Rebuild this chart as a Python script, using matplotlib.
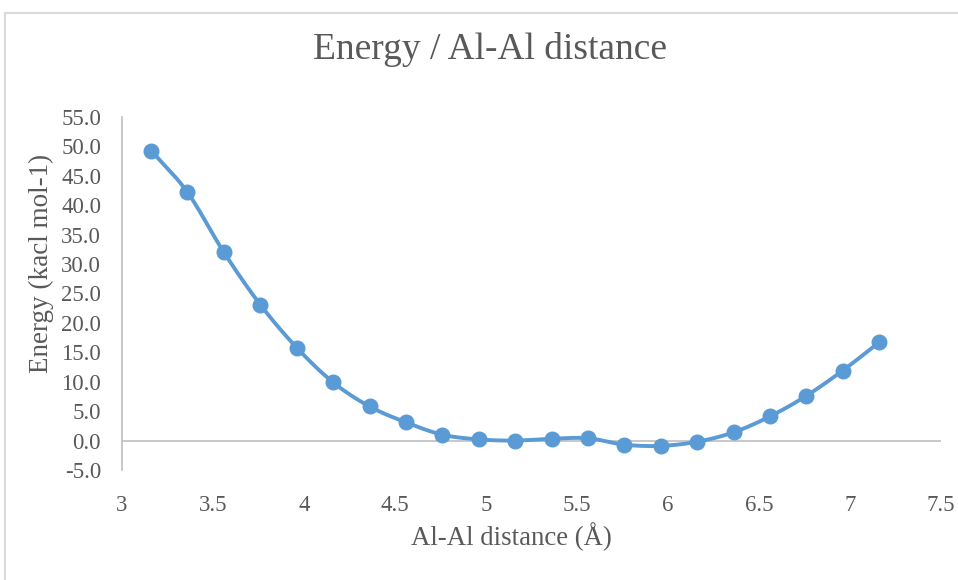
"""Energie en fonction de la distance Al-Al."""

import matplotlib
matplotlib.use("Agg")
import matplotlib.pyplot as plt
from matplotlib.patches import Rectangle
import numpy as np

# Donnees
distances = [3.16, 3.36, 3.56, 3.76, 3.96, 4.16, 4.36, 4.56, 4.76, 4.96,
             5.16, 5.36, 5.56, 5.76, 5.96, 6.16, 6.36, 6.56, 6.76, 6.96,
             7.16]
energies = [49.3, 42.2, 32.0, 23.1, 15.8, 9.9, 5.8, 3.1, 1.0, 0.2,
            0.0, 0.3, 0.4, -0.7, -0.9, -0.2, 1.4, 4.1, 7.6, 11.9,
            16.7]
y_ticks = np.arange(-5, 56, 5)
x_ticks = [3, 3.5, 4, 4.5, 5, 5.5, 6, 6.5, 7, 7.5]

bleu = "#5B9BD5"
gris = "#595959"


def lisser(x, y, n=20):
    """Courbe de Catmull-Rom passant par les points (rendu du trait)."""
    x = np.asarray(x, float)
    y = np.asarray(y, float)
    px = np.concatenate([[2 * x[0] - x[1]], x, [2 * x[-1] - x[-2]]])
    py = np.concatenate([[2 * y[0] - y[1]], y, [2 * y[-1] - y[-2]]])
    xs, ys = [], []
    t = np.linspace(0, 1, n, endpoint=False)
    for i in range(1, len(px) - 2):
        for p, out in ((px, xs), (py, ys)):
            p0, p1, p2, p3 = p[i - 1], p[i], p[i + 1], p[i + 2]
            out.extend(0.5 * (2 * p1 + (-p0 + p2) * t
                              + (2 * p0 - 5 * p1 + 4 * p2 - p3) * t ** 2
                              + (-p0 + 3 * p1 - 3 * p2 + p3) * t ** 3))
    xs.append(x[-1])
    ys.append(y[-1])
    return xs, ys


plt.rcParams['font.family'] = ['Liberation Serif', 'DejaVu Serif']

fig = plt.figure(figsize=(9.58, 5.8), dpi=100)
ax = fig.add_axes([0.1273, 0.1897, 0.855, 0.6086])

# Cadre gris clair autour du graphique
fig.patches.append(Rectangle((5 / 958, -0.1), 1.1, 1 - 13 / 580 + 0.1,
                             transform=fig.transFigure, fill=False,
                             edgecolor="#D9D9D9", linewidth=1.5))

xs, ys = lisser(distances, energies)
ax.plot(xs, ys, color=bleu, linewidth=2.8, zorder=3)
ax.plot(distances, energies, 'o', color=bleu, markersize=10.5, zorder=4)

ax.axhline(0, color="#BFBFBF", linewidth=1.2, zorder=1)

ax.set_xlim(3, 7.5)
ax.set_ylim(-5, 55)
ax.set_xticks(x_ticks)
ax.set_xticklabels([f"{v:g}" for v in x_ticks])
ax.set_yticks(y_ticks)
ax.set_yticklabels([f"{v:.1f}" for v in y_ticks])
ax.tick_params(length=0, labelsize=16.5, colors=gris)
ax.tick_params(axis='x', pad=18)
ax.tick_params(axis='y', pad=15)

for s in ['top', 'right', 'bottom']:
    ax.spines[s].set_visible(False)
ax.spines['left'].set_color("#BFBFBF")
ax.spines['left'].set_linewidth(1.2)

ax.set_xlabel("Al-Al distance (Å)", fontsize=19.3, color=gris)
ax.set_ylabel("Energy (kacl mol-1)", fontsize=19.5, color=gris)
ax.xaxis.set_label_coords(0.476, -0.148)
ax.yaxis.set_label_coords(-0.083, 0.586)
fig.text(490 / 958, 0.915, "Energy / Al-Al distance", fontsize=27,
         color=gris, ha='center', va='center')

plt.savefig("out.png", dpi=100)
